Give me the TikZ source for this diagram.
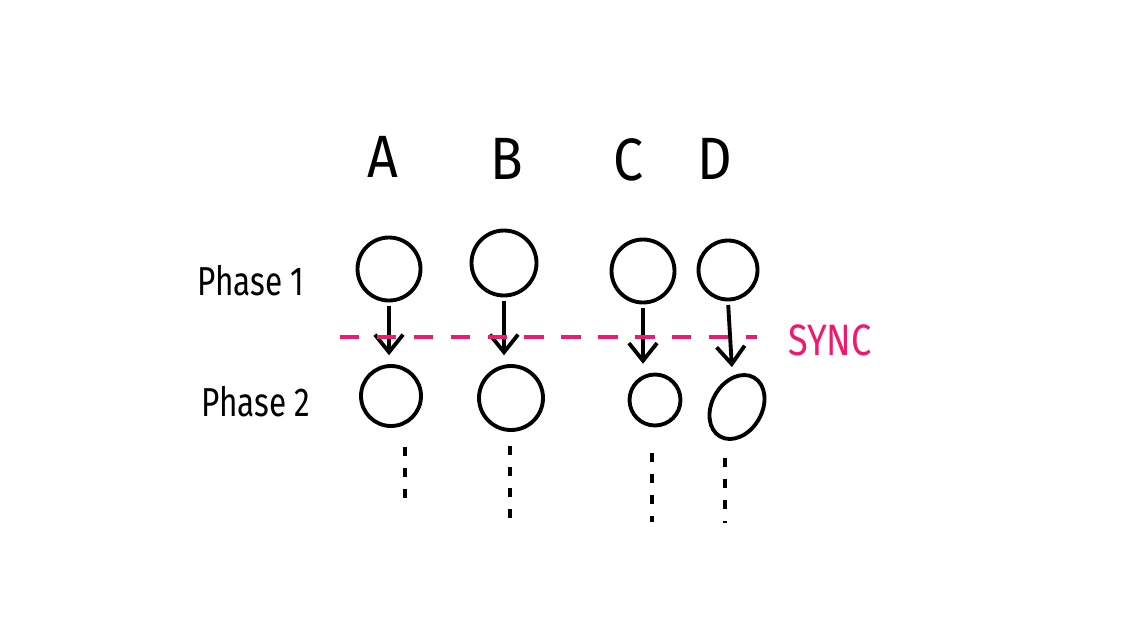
\documentclass[tikz,border=0pt]{standalone}
\usepackage{fontspec}
\setmainfont{Fira Sans}
\usetikzlibrary{positioning,arrows.meta,shapes.geometric}
\definecolor{syncPink}{HTML}{F2186F}

\begin{document}
\begin{tikzpicture}[x=0.02cm, y=-0.02cm, node distance=1cm, on grid, line width=2.2pt]

	\useasboundingbox (0,0) rectangle (1128,616);

	\tikzstyle{task} = [draw, circle, inner sep=0pt]
	\tikzstyle{nextPhase} = [-{Straight Barb[length=10pt,width=16pt,line width=2.2pt]}, shorten <=2pt, shorten >=5pt]
	\tikzstyle{more} = [line width=2pt, dash pattern=on 5pt off 7pt]
	\tikzstyle{colName} = [font=\fontsize{34}{38}\selectfont, xscale=0.9]
	\tikzstyle{phaseName} = [font=\fontsize{23}{26}\selectfont, xscale=0.78]

	% Column names
	\node[colName] (nameA) at (383,157) {A};
	\node[colName] (nameB) at (507,159) {B};
	\node[colName] (nameC) at (629,160) {C};
	\node[colName] (nameD) at (715,159) {D};

	% Phase names
	\node[phaseName] (phase1) at (251,281) {Phase 1};
	\node[phaseName] (phase2) at (256,402) {Phase 2};

	% Phase 1 tasks
	\node[task, minimum size=1.26cm] (a1) at (389,269) {};
	\node[task, minimum size=1.30cm] (b1) at (504,263) {};
	\node[task, minimum size=1.26cm] (c1) at (643,271) {};
	\node[task, minimum size=1.18cm] (d1) at (728,270) {};

	% Phase 2 tasks
	\node[task, minimum size=1.20cm] (a2) at (391,396) {};
	\node[task, minimum size=1.28cm] (b2) at (511,398) {};
	\node[task, minimum size=1.02cm] (c2) at (655,400) {};
	\node[draw, ellipse, inner sep=0pt, minimum width=1.0cm, minimum height=1.36cm, rotate=-30] (d2) at (737,407) {};

	% Steps
	\draw[nextPhase] (a1.south) -- (a1.south |- a2.north);
	\draw[nextPhase] (b1.south) -- (b1.south |- b2.north);
	\draw[nextPhase] (c1.south) -- (c1.south |- c2.north);
	\draw[nextPhase] (d1.south) -- ([xshift=2.5pt]d1.south |- d2.north);

	% Sync line
	\coordinate (syncStart) at (340,337);
	\coordinate (syncEnd) at (757,337);
	\draw[syncPink, line width=2pt, dash pattern=on 11pt off 10pt] (syncStart) -- (syncEnd);
	\node[syncPink, font=\fontsize{25}{28}\selectfont, xscale=0.82] (sync) at (830,340) {SYNC};

	% More phases
	\coordinate (a3) at (405,447);
	\coordinate (b3) at (510,446);
	\coordinate (c3) at (652,453);
	\coordinate (d3) at (725,458);
	\draw[more] (a3) -- ++(0,60);
	\draw[more] (b3) -- ++(0,74);
	\draw[more] (c3) -- ++(0,69);
	\draw[more] (d3) -- ++(0,65);

\end{tikzpicture}
\end{document}
